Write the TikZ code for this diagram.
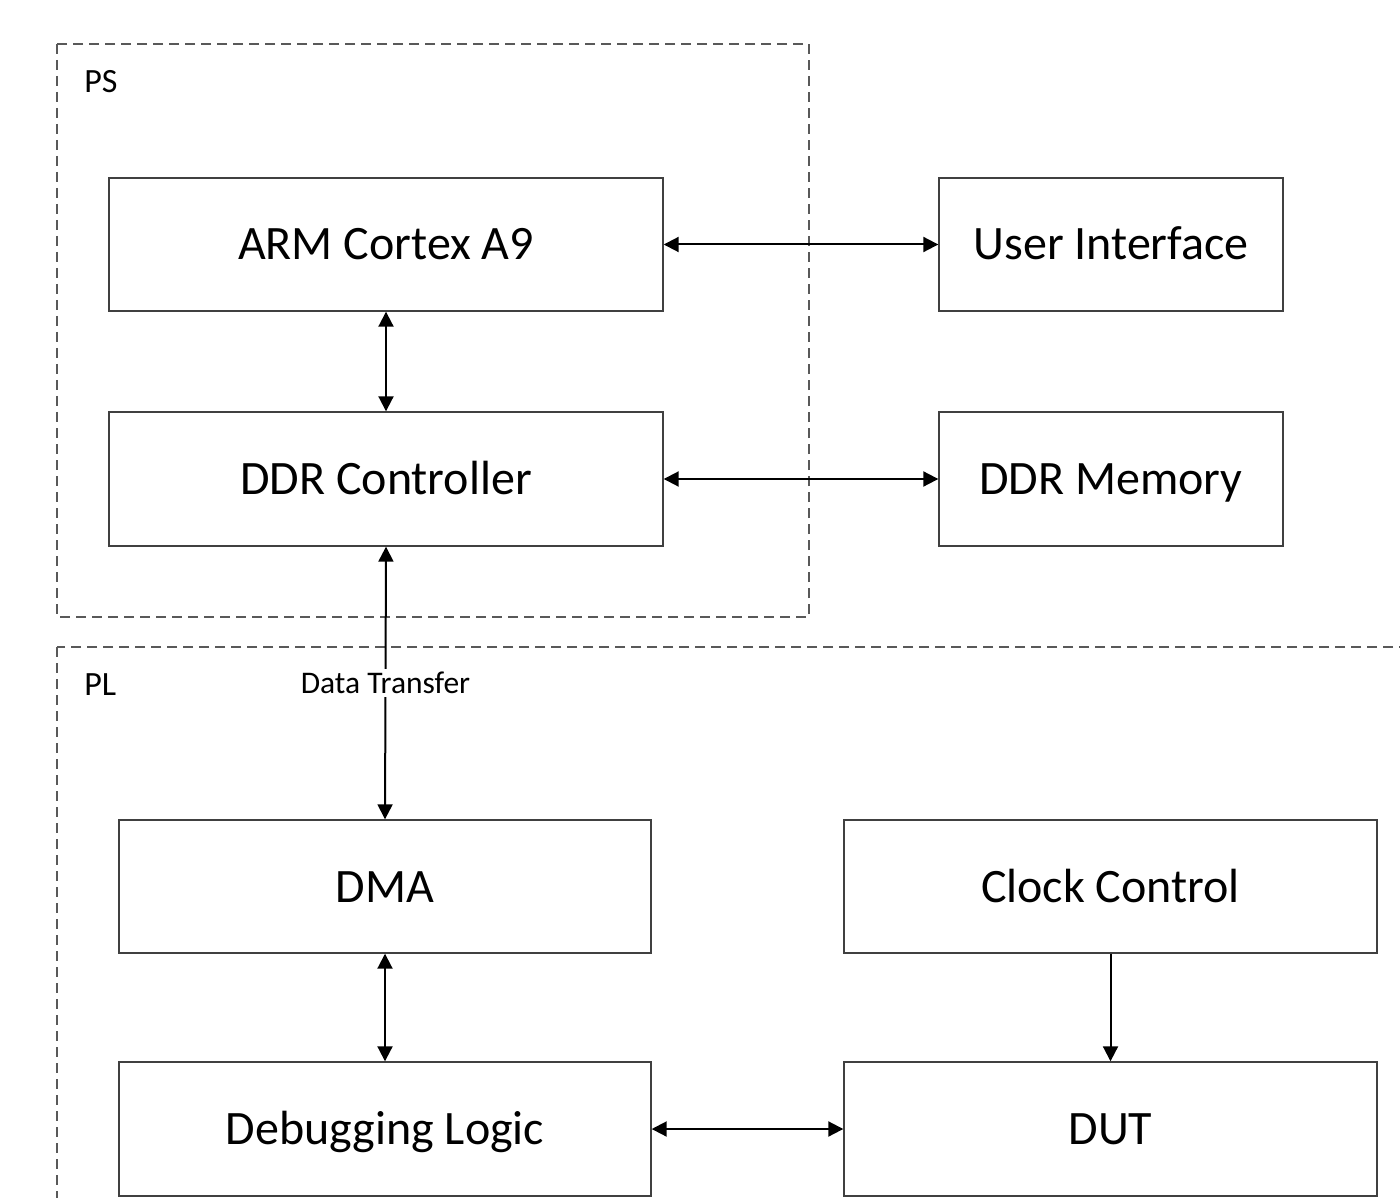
\documentclass[tikz,border=0pt]{standalone}
\usepackage{fontspec}
\setmainfont{Carlito}
\usetikzlibrary{arrows.meta}
\begin{document}
\begin{tikzpicture}[x=0.5pt,y=-0.5pt,
  block/.style={draw=black!75,line width=0.7pt,fill=white,inner sep=0pt,
    text height=15.5pt,text depth=0pt,font=\fontsize{24}{28}\selectfont},
  region/.style={draw=black!65,line width=0.7pt,dash pattern=on 5pt off 3pt},
  regionlabel/.style={anchor=west,inner sep=0pt,font=\fontsize{17}{20}\selectfont},
  link/.style={line width=1pt,{Triangle[length=7.5pt,width=7.5pt]}-{Triangle[length=7.5pt,width=7.5pt]}},
  feed/.style={line width=1pt,-{Triangle[length=7.5pt,width=7.5pt]}}]
\clip (0,0) rectangle (1400,1197);
\fill[white] (0,0) rectangle (1400,1197);

% processing system and programmable logic regions
\draw[region] (57,44) rectangle (809,617);
\draw[region] (57,647) rectangle (1430,1230);
\node[regionlabel] (ps) at (84,82) {PS};
\node[regionlabel] (pl) at (84,685) {PL};

% blocks
\node[block,minimum width=277pt,minimum height=66.5pt] (arm) at (386,244.5) {ARM Cortex A9};
\node[block,minimum width=172pt,minimum height=66.5pt] (ui) at (1111,244.5) {User Interface};
\node[block,minimum width=277pt,minimum height=67pt] (ddrc) at (386,479) {DDR Controller};
\node[block,minimum width=172pt,minimum height=67pt] (ddrm) at (1111,479) {DDR Memory};
\node[block,minimum width=266pt,minimum height=66.5pt] (dma) at (385,886.5) {DMA};
\node[block,minimum width=266.5pt,minimum height=66.5pt] (clk) at (1110.5,886.5) {Clock Control};
\node[block,minimum width=266pt,minimum height=67pt] (dbg) at (385,1129) {Debugging Logic};
\node[block,minimum width=266.5pt,minimum height=67pt] (dut) at (1110.5,1129) {DUT};

% connections
\draw[link] (arm.east) -- (ui.west);
\draw[link] (ddrc.east) -- (ddrm.west);
\draw[link] (arm.south) -- (ddrc.north);
\draw[link] (ddrc.south) -- node[fill=white,inner sep=1.5pt,pos=0.5,font=\fontsize{15.75}{18}\selectfont] (dt) {Data Transfer} (dma.north);
\draw[link] (dma.south) -- (dbg.north);
\draw[feed] (clk.south) -- (dut.north);
\draw[link] (dbg.east) -- (dut.west);
\end{tikzpicture}
\end{document}
